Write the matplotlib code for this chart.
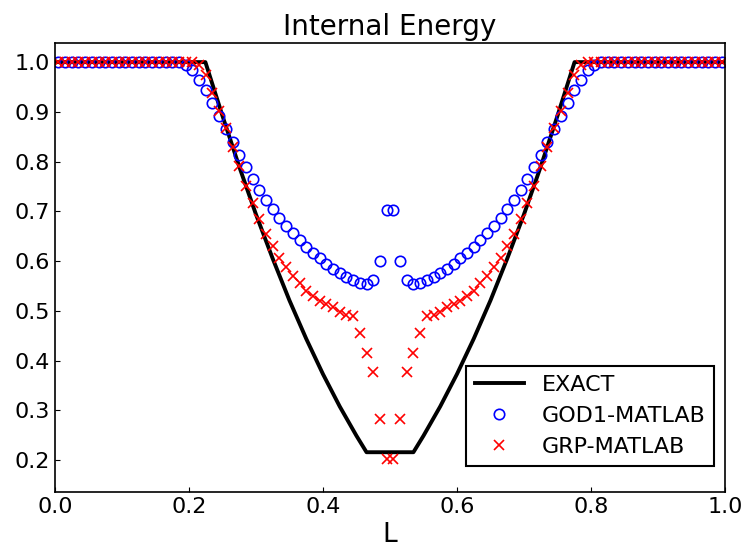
import numpy as np
import matplotlib
matplotlib.use('Agg')
import matplotlib.pyplot as plt

# Celulas (centros) e valores
x_cells = np.arange(100) * 0.01 + 0.005

god1_left = [1.0] * 19 + [0.995, 0.984, 0.965, 0.944, 0.918, 0.891, 0.866, 0.840, 0.814, 0.790,
                          0.766, 0.744, 0.723, 0.705, 0.686, 0.670, 0.656, 0.643, 0.629, 0.617,
                          0.606, 0.595, 0.585, 0.576, 0.569, 0.563, 0.557, 0.554, 0.563, 0.601, 0.702]
god1_right = [0.702, 0.601, 0.563, 0.554, 0.557, 0.563, 0.569, 0.576, 0.585, 0.595,
              0.606, 0.617, 0.629, 0.643, 0.656, 0.670, 0.686, 0.705, 0.723, 0.744,
              0.766, 0.790, 0.814, 0.840, 0.866, 0.891, 0.918, 0.944, 0.965, 0.984, 0.995] + [1.0] * 19

grp_left = [1.0] * 21 + [0.995, 0.974, 0.937, 0.902, 0.867, 0.830, 0.791, 0.752, 0.717, 0.684,
                         0.655, 0.630, 0.606, 0.588, 0.571, 0.556, 0.541, 0.530, 0.520, 0.513,
                         0.508, 0.498, 0.492, 0.490, 0.455, 0.416, 0.378, 0.282, 0.203]
grp_right = [0.203, 0.282, 0.378, 0.416, 0.455, 0.490, 0.492, 0.498, 0.508, 0.513,
             0.520, 0.530, 0.541, 0.556, 0.571, 0.588, 0.606, 0.630, 0.655, 0.684,
             0.717, 0.752, 0.791, 0.830, 0.867, 0.902, 0.937, 0.974, 0.995] + [1.0] * 21

god1 = god1_left + god1_right
grp = grp_left + grp_right

# Solucao exata
x_exact = [0.0, 0.2245, 0.25, 0.275, 0.30, 0.325, 0.35, 0.375, 0.40, 0.425, 0.45, 0.465,
           0.535, 0.55, 0.575, 0.60, 0.625, 0.65, 0.675, 0.70, 0.725, 0.75, 0.7755, 1.0]
e_exact = [1.0, 1.0, 0.892, 0.790, 0.694, 0.605, 0.521, 0.444, 0.373, 0.308, 0.249, 0.216,
           0.216, 0.249, 0.308, 0.373, 0.444, 0.521, 0.605, 0.694, 0.790, 0.892, 1.0, 1.0]

fig = plt.figure(figsize=(7.45, 5.47), dpi=100)
ax = fig.add_axes([0.0738, 0.1005, 0.8993, 0.8205])

ax.plot(x_exact, e_exact, color='black', lw=2.8, label='EXACT')
ax.plot(x_cells, god1, 'o', ms=7.5, mfc='none', mec='blue', mew=1.2, label='GOD1-MATLAB')
ax.plot(x_cells, grp, 'x', ms=7.5, color='red', mew=1.2, label='GRP-MATLAB')

ax.set_xlim(0, 1)
ax.set_ylim(0.136, 1.038)
ax.set_xticks(np.arange(0, 1.01, 0.2))
ax.set_yticks(np.arange(0.2, 1.01, 0.1))
ax.tick_params(direction='in', labelsize=16)
for s in ax.spines.values():
    s.set_linewidth(1.2)

ax.set_title('Internal Energy', fontsize=20)
ax.set_xlabel('L', fontsize=19)

leg = ax.legend(loc='lower right', bbox_to_anchor=(0.984, 0.058), borderaxespad=0,
                fontsize=16, fancybox=False, edgecolor='black', framealpha=1,
                borderpad=0.4, handlelength=2.2)
leg.get_frame().set_linewidth(1.5)

fig.savefig('out.png', dpi=100)
